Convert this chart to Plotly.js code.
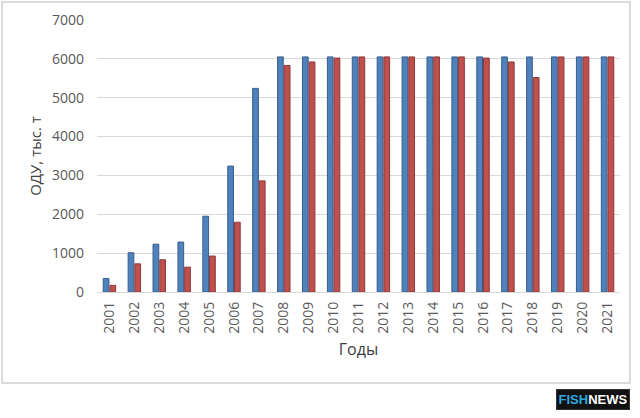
<!DOCTYPE html>
<html>
<head>
<meta charset="utf-8">
<script src="https://cdn.plot.ly/plotly-3.0.1.min.js"></script>
<style>
  html, body { margin: 0; padding: 0; background: #fff; }
  #graph { width: 640px; height: 418px; }
</style>
</head>
<body>
<div id="graph"></div>
<script>
// Годы
var years = ['2001', '2002', '2003', '2004', '2005', '2006', '2007',
    '2008', '2009', '2010', '2011', '2012', '2013', '2014',
    '2015', '2016', '2017', '2018', '2019', '2020', '2021'];

// ОДУ, тыс. т (синие столбцы)
var odu = [350, 1010, 1230, 1285, 1950, 3240, 5240,
    6050, 6050, 6050, 6050, 6050, 6050, 6050,
    6050, 6050, 6050, 6050, 6050, 6050, 6050];

// второй ряд (красные столбцы)
var second = [170, 725, 830, 640, 925, 1795, 2860,
    5830, 5920, 6020, 6050, 6050, 6050, 6050,
    6050, 6020, 5920, 5520, 6050, 6050, 6050];

var yTicks = [0, 1000, 2000, 3000, 4000, 5000, 6000, 7000];

/* -------------Traces------------ */

var traceBlue = {
    x: years,
    y: odu,
    type: 'bar',
    marker: {
        color: '#4F81BD',
        line: { color: '#385D8A', width: 1 }
    }
};

var traceRed = {
    x: years,
    y: second,
    type: 'bar',
    marker: {
        color: '#C0504D',
        line: { color: '#8C3836', width: 1 }
    }
};

var tickFont = { family: 'Open Sans, sans-serif', size: 14, color: '#595959' };

var layout = {
    width: 640,
    height: 418,
    showlegend: false,
    barmode: 'group',
    bargap: 0.46,
    bargroupgap: 0.15,
    paper_bgcolor: '#fff',
    plot_bgcolor: '#fff',
    margin: { l: 97, r: 20, t: 20, b: 126 },
    xaxis: {
        type: 'category',
        tickangle: -90,
        tickfont: tickFont,
        showgrid: false,
        showline: false,
        ticks: '',
        ticklabelstandoff: 6,
        title: {
            text: 'Годы',
            font: { family: 'Open Sans, sans-serif', size: 16, color: '#404040' },
            standoff: 10
        }
    },
    yaxis: {
        range: [0, 7000],
        autorange: false,
        tickvals: yTicks,
        tickfont: tickFont,
        showgrid: true,
        gridcolor: '#d9d9d9',
        gridwidth: 1,
        zeroline: true,
        zerolinecolor: '#d9d9d9',
        zerolinewidth: 1,
        ticks: '',
        ticklabelstandoff: 12,
        title: {
            text: 'ОДУ, тыс. т',
            font: { family: 'Open Sans, sans-serif', size: 15, color: '#404040' },
            standoff: 6
        }
    },
    shapes: [{
        type: 'rect',
        xref: 'paper', yref: 'paper',
        x0: -0.1816, x1: 1.019,
        y0: -0.3346, y1: 1.066,
        line: { color: '#d0d0d0', width: 1.5 },
        layer: 'below'
    }],
    annotations: [{
        xref: 'paper', yref: 'paper',
        x: 1.019, y: -0.357,
        xanchor: 'right', yanchor: 'top',
        showarrow: false,
        text: '<b><span style="color:#2fa8e0">FISH</span>NEWS</b>',
        font: { family: 'Liberation Sans Narrow, Liberation Sans, sans-serif', size: 13, color: '#fff' },
        bgcolor: '#111',
        bordercolor: '#333',
        borderwidth: 1,
        borderpad: 2,
        width: 68
    }]
};

var graph = document.getElementById('graph');
Plotly.newPlot(graph, [traceBlue, traceRed], layout, { staticPlot: true });
</script>
</body>
</html>
